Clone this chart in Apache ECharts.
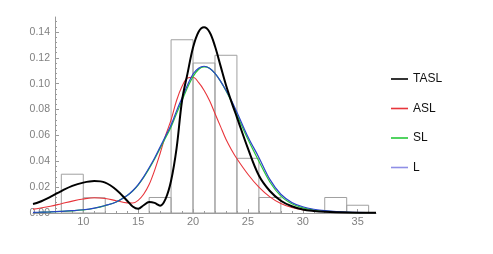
<!DOCTYPE html>
<html><head><meta charset="utf-8">
<script src="https://cdn.jsdelivr.net/npm/echarts@6/dist/echarts.min.js"></script>
<style>html,body{margin:0;padding:0;background:#fff}#c{width:493px;height:254px}</style>
</head><body><div id="c"></div>
<script>
// Histogram bins: [start, end, density]
const binStart = [8, 10, 16, 18, 20, 22, 24, 26, 32, 34];
const binEnd   = [10, 12, 18, 20, 22, 24, 26, 28, 34, 36];
const binDensity = [0.030, 0.0118, 0.012, 0.134, 0.116, 0.122, 0.0423, 0.012, 0.012, 0.006];

// Curve sample positions (x)
const xs = [5.42,6,7,8,9,10,11,12,13,14,14.5,15,15.5,16,16.5,17,17.5,18,18.5,19,19.5,20,20.5,21,21.5,22,22.5,23,23.5,24,25,26,27,28,29,30,31,32,34,36.67];
const tasl = [0.0070,0.0085,0.0125,0.0170,0.0210,0.0235,0.0247,0.0235,0.0180,0.0095,0.0050,0.0032,0.0060,0.0085,0.0078,0.0057,0.0110,0.0250,0.0500,0.0870,0.1080,0.1280,0.1400,0.1436,0.1400,0.1290,0.1140,0.0990,0.0860,0.0740,0.0500,0.0290,0.0170,0.0095,0.0052,0.0027,0.0016,0.0010,0.0004,0.0001];
const asl  = [0.0030,0.0037,0.0052,0.0072,0.0092,0.0108,0.0118,0.0112,0.0095,0.0078,0.0077,0.0098,0.0145,0.0220,0.0330,0.0460,0.0600,0.0720,0.0870,0.0980,0.1045,0.1050,0.1010,0.0950,0.0870,0.0770,0.0670,0.0570,0.0490,0.0420,0.0300,0.0200,0.0125,0.0073,0.0043,0.0026,0.0018,0.0012,0.0006,0.0002];
const sl   = [0.0004,0.0005,0.0008,0.0012,0.0017,0.0024,0.0037,0.0057,0.0085,0.0135,0.0170,0.0216,0.0275,0.0343,0.0418,0.0500,0.0583,0.0665,0.0770,0.0870,0.0970,0.1055,0.1110,0.1130,0.1120,0.1080,0.1020,0.0945,0.0860,0.0760,0.0570,0.0400,0.0240,0.0130,0.0072,0.0040,0.0023,0.0014,0.0005,0.0002];
const lv   = [0.0005,0.0006,0.0009,0.0013,0.0018,0.0025,0.0038,0.0058,0.0085,0.0135,0.0172,0.0220,0.0280,0.0350,0.0425,0.0510,0.0595,0.0680,0.0790,0.0890,0.0990,0.1075,0.1120,0.1135,0.1120,0.1080,0.1020,0.0950,0.0870,0.0780,0.0590,0.0430,0.0260,0.0145,0.0082,0.0048,0.0029,0.0018,0.0007,0.0003];

// Tick labels
const xTicks = [10, 15, 20, 25, 30, 35];
const xMinorTicks = [6,7,8,9,11,12,13,14,16,17,18,19,21,22,23,24,26,27,28,29,31,32,33,34,36];
const yTicks = [0, 0.02, 0.04, 0.06, 0.08, 0.10, 0.12, 0.14];
const yMinorTicks = [];
for (let i = 1; i <= 37; i++) { if (i % 5 !== 0) yMinorTicks.push(+(i * 0.004).toFixed(3)); }

const zip = (a, b) => a.map((v, i) => [v, b[i]]);
const axisGray = '#9a9a9a';
const font = 'Liberation Sans';
const X_MIN = 5.42, X_MAX = 36.67, Y_MAX = 0.1516;

const chart = echarts.init(document.getElementById('c'), null, {renderer: 'canvas'});
chart.setOption({
  animation: false,
  backgroundColor: '#fff',
  grid: {left: 33, right: 117, top: 17, bottom: 41},
  xAxis: [{
    type: 'value', min: X_MIN, max: X_MAX,
    axisLine: {lineStyle: {color: axisGray, width: 1}},
    axisTick: {inside: true, length: 4, customValues: xTicks, lineStyle: {color: axisGray}},
    axisLabel: {customValues: xTicks, color: '#808080', fontSize: 11, fontFamily: font, margin: 3},
    splitLine: {show: false}
  }, {
    type: 'value', min: X_MIN, max: X_MAX, position: 'bottom',
    axisLine: {show: false},
    axisTick: {inside: true, length: 2, customValues: xMinorTicks, lineStyle: {color: axisGray}},
    axisLabel: {show: false},
    splitLine: {show: false}
  }],
  yAxis: [{
    type: 'value', min: 0, max: Y_MAX, position: 'left', offset: -22,
    axisLine: {show: true, lineStyle: {color: axisGray, width: 1}},
    axisTick: {show: true, inside: true, length: 4, customValues: yTicks, lineStyle: {color: axisGray}},
    axisLabel: {customValues: yTicks, color: '#808080', fontSize: 10.5, fontFamily: font, margin: 5,
      formatter: v => v.toFixed(2)},
    splitLine: {show: false}
  }, {
    type: 'value', min: 0, max: Y_MAX, position: 'left', offset: -22,
    axisLine: {show: false},
    axisTick: {show: true, inside: true, length: 2, customValues: yMinorTicks, lineStyle: {color: axisGray}},
    axisLabel: {show: false},
    splitLine: {show: false}
  }],
  legend: {
    orient: 'vertical', left: 391, top: 72, padding: 0,
    icon: 'rect', itemWidth: 17, itemHeight: 1.6, itemGap: 15.5,
    textStyle: {fontSize: 12, fontFamily: font, color: '#111', lineHeight: 14},
    data: [
      {name: 'TASL', itemStyle: {color: '#000'}},
      {name: 'ASL', itemStyle: {color: '#e8353b'}},
      {name: 'SL', itemStyle: {color: '#27c83a'}},
      {name: 'L', itemStyle: {color: '#8f8fe6'}}
    ]
  },
  series: [
    {
      type: 'custom', name: 'hist', xAxisIndex: 0, yAxisIndex: 0,
      data: binStart.map((s, i) => [s, binEnd[i], binDensity[i]]),
      encode: {x: [0, 1], y: 2},
      renderItem: (params, api) => {
        const p0 = api.coord([api.value(0), api.value(2)]);
        const p1 = api.coord([api.value(1), 0]);
        return {type: 'rect',
          shape: {x: p0[0], y: p0[1], width: p1[0] - p0[0], height: p1[1] - p0[1]},
          style: {fill: 'none', stroke: '#a0a0a0', lineWidth: 1}};
      },
      z: 1
    },
    {type: 'line', name: 'TASL', data: zip(xs, tasl), smooth: 0.35, symbol: 'none',
      lineStyle: {color: '#000', width: 2}, itemStyle: {color: '#000'}, z: 5},
    {type: 'line', name: 'ASL', data: zip(xs, asl), smooth: 0.35, symbol: 'none',
      lineStyle: {color: '#e8353b', width: 1.1}, itemStyle: {color: '#e8353b'}, z: 3},
    {type: 'line', name: 'SL', data: zip(xs, sl), smooth: 0.35, symbol: 'none',
      lineStyle: {color: '#27c83a', width: 1.2}, itemStyle: {color: '#27c83a'}, z: 3},
    {type: 'line', name: 'L', data: zip(xs, lv), smooth: 0.35, symbol: 'none',
      lineStyle: {color: '#2a43c8', width: 1.2}, itemStyle: {color: '#2a43c8'}, z: 4}
  ]
});
</script></body></html>
